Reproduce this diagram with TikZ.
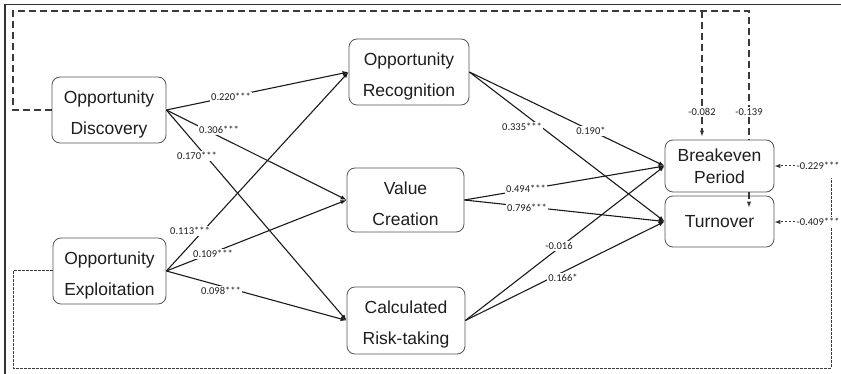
\documentclass[tikz,border=0pt]{standalone}
\usepackage{fontspec}
\setmainfont{Liberation Sans}
\newfontfamily\labfont{Carlito}
\usetikzlibrary{arrows.meta}
\definecolor{boxgray}{HTML}{555555}
\definecolor{textc}{HTML}{1E1E1E}
\definecolor{linec}{HTML}{1A1A1A}
\definecolor{dashc}{HTML}{3A3A3A}
\definecolor{borderc}{HTML}{333333}
\newcommand{\topstrut}{\rule{0pt}{21pt}}
\begin{document}
\begin{tikzpicture}[x=1pt,y=-1pt,
  box/.style={draw=boxgray, line width=0.8pt, rounded corners=8pt, fill=white,
    align=center, text=textc, inner sep=0pt,
    font=\fontsize{17.5}{31}\selectfont},
  tightbox/.style={box, font=\fontsize{17.5}{22}\selectfont},
  lab/.style={font=\labfont\fontsize{10.5}{12}\selectfont, fill=white, inner sep=1.5pt, text=textc},
  tip/.style={-{Latex[length=6pt,width=4.5pt]}},
  conn/.style={line width=1.1pt, draw=linec, tip},
  topdash/.style={line width=1.1pt, draw=dashc, dash pattern=on 7pt off 4pt},
  botdot/.style={line width=1pt, draw=dashc, dash pattern=on 2.5pt off 1.5pt},
  border/.style={draw=borderc, line width=1.3pt}]
\useasboundingbox (0,0) rectangle (841,374);
\clip (0,0) rectangle (841,374);
\draw[border] (5,4.5) rectangle (870,395);

% boxes
\node[box, minimum width=114pt, minimum height=66pt] (disc) at (109,110) {\topstrut Opportunity\\Discovery};
\node[box, minimum width=113pt, minimum height=66pt] (expl) at (109.5,271) {\topstrut Opportunity\\Exploitation};
\node[box, minimum width=120pt, minimum height=66pt] (rec) at (409,72) {\topstrut Opportunity\\Recognition};
\node[box, minimum width=117pt, minimum height=64pt] (val) at (405.5,200) {\topstrut Value\\Creation};
\node[box, minimum width=118pt, minimum height=67pt] (risk) at (406,320.5) {\topstrut Calculated\\Risk-taking};
\node[tightbox, minimum width=109pt, minimum height=52pt] (brk) at (719.5,166) {Breakeven\\Period};
\node[box, minimum width=109pt, minimum height=51pt] (turn) at (719.5,221.5) {Turnover};

% solid connectors
\draw[conn] (disc.east) -- (rec.west);
\draw[conn] (disc.east) -- (val.west);
\draw[conn] (disc.east) -- (risk.west);
\draw[conn] (expl.east) -- (rec.west);
\draw[conn] (expl.east) -- (val.west);
\draw[conn] (expl.east) -- (risk.west);
\draw[conn] (rec.east) -- (brk.west);
\draw[conn] (rec.east) -- (turn.west);
\draw[conn] (val.east) -- (brk.west);
\draw[conn] (val.east) -- (turn.west);
\draw[conn] (risk.east) -- (brk.west);
\draw[conn] (risk.east) -- (turn.west);

% labels on solid connectors
\node[lab] (l220) at (231,97) {0.220***};
\node[lab] (l306) at (219,130) {0.306***};
\node[lab] (l170) at (197,156) {0.170***};
\node[lab] (l113) at (190,231) {0.113***};
\node[lab] (l109) at (213,254) {0.109***};
\node[lab] (l098) at (221,291) {0.098***};
\node[lab] (l335) at (522,127) {0.335***};
\node[lab] (l190) at (591,131) {0.190*};
\node[lab] (l494) at (526,189) {0.494***};
\node[lab] (l796) at (527,208) {0.796***};
\node[lab] (l016) at (559,246) {-0.016};
\node[lab] (l166) at (563,278) {0.166*};

% top dashed feedback
\coordinate (c1) at (13,11);
\coordinate (c2) at (749,11);
\coordinate (c3) at (702,11);
\node[lab] (l082) at (702,112) {-0.082};
\node[lab] (l139) at (749,112) {-0.139};
\draw[topdash] (disc.west) -| (c1) -- (c2) -- (l139.north);
\draw[topdash] (c3) -- (l082.north);
\draw[topdash, tip, shorten >=3pt] (l082.south) -- (l082.south |- brk.north);
\draw[topdash] (l139.south) -- (l139.south |- brk.north);
\draw[topdash, tip, shorten >=-12pt] (l139.south |- brk.south) -- (l139.south |- turn.north);

% bottom dotted feedback
\coordinate (c4) at (13,368);
\coordinate (c5) at (831,368);
\coordinate (c6) at (831,178);
\draw[botdot] (expl.west) -| (c4) -- (c5) -- (c6);
\node[lab, anchor=west] (l229) at (795,166) {-0.229***};
\node[lab, anchor=west] (l409) at (795,222) {-0.409***};
\draw[botdot, tip] (l229.west) -- (brk.east);
\draw[botdot, tip] (l409.west) -- (l409.west -| turn.east);
\end{tikzpicture}
\end{document}
